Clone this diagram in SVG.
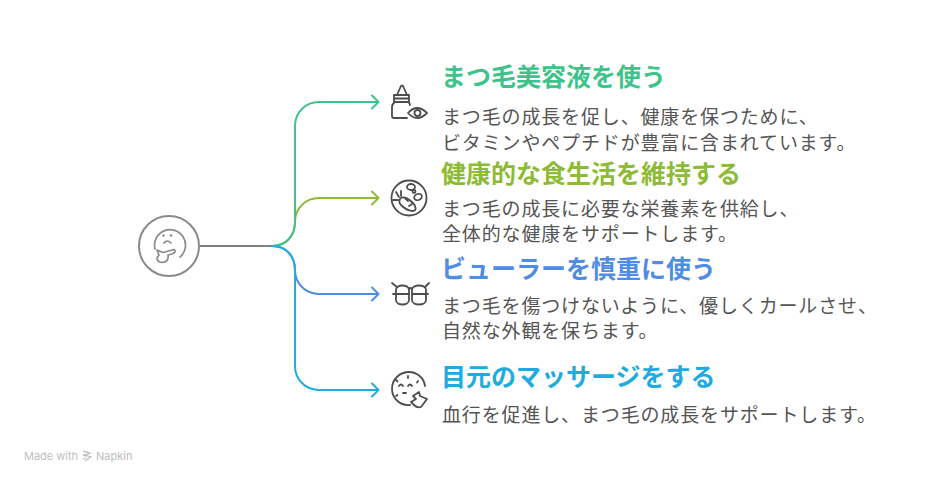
<svg xmlns="http://www.w3.org/2000/svg" width="932" height="484" viewBox="0 0 932 484">
<style>
text{font-family:"Noto Sans CJK JP","Noto Sans",sans-serif}
.t{font-size:25px;font-weight:700}
.b{font-size:19px;fill:#555;letter-spacing:.85px}
.i{fill:none;stroke:#4d4d4d;stroke-width:1.8;stroke-linecap:round;stroke-linejoin:round}
.c{fill:none;stroke-width:2;stroke-linecap:round;stroke-linejoin:round}
</style>
<rect width="932" height="484" fill="#fff"/>
<g id="connectors">
<path class="c" stroke="#808080" d="M200 246H272"/>
<path class="c" stroke="#8dbb35" d="M272 246C286 246 295 236 295 222C295 208 306 198 319 198H378.500M372 191.500L378.500 198L372 204.500"/>
<path class="c" stroke="#3dc48a" d="M272 246C286 246 295 236 295 222V126C295 112 306 102 319 102H378.500M372 95.500L378.500 102L372 108.500"/>
<path class="c" stroke="#4e8ce6" d="M272 246C286 246 295 256 295 270C295 284 306 294 319 294H378.500M372 287.500L378.500 294L372 300.500"/>
<path class="c" stroke="#20abe0" d="M272 246C286 246 295 256 295 270V366C295 380 306 390 319 390H378.500M372 383.500L378.500 390L372 396.500"/>
</g>
<g id="center">
<circle cx="169" cy="246" r="30" fill="#fff" stroke="#8a8a8a" stroke-width="2"/>
<g fill="none" stroke="#8a8a8a" stroke-width="1.7" stroke-linecap="round" stroke-linejoin="round">
<path d="M155 249A15.500 15.500 0 1 1 180 257"/>
<path d="M157 250L163 252.500L174 249.500Q177 252 172 254L168 255Q169 262 162 262.500Q157 262 157 258L159 255Z"/>
<path d="M164 243Q167 239 171 243"/>
</g>
<circle cx="163.500" cy="235.500" r="1.200" fill="#8a8a8a"/><circle cx="171" cy="235.500" r="1.200" fill="#8a8a8a"/>
</g>
<g id="node1">
<g class="i">
<path d="M397 95L400.500 87Q402 84 403.500 87L407 95Z"/>
<path d="M394 95H409V102H394ZM394 98.500H409"/>
<path d="M395 102Q392 104 392 107V116Q392 118 394 118H407M408 102Q410 103 410 105"/>
<path d="M408 113Q417 103 427 113Q417 123 408 113Z"/>
<circle cx="417.500" cy="113" r="3"/>
</g>
</g>
<text class="t" x="441" y="86" fill="#3dc48a">まつ毛美容液を使う</text>
<text class="b" x="442" y="124">まつ毛の成長を促し、健康を保つために、</text>
<text class="b" x="442" y="150">ビタミンやペプチドが豊富に含まれています。</text>
<g id="node2">
<circle class="i" cx="409" cy="198" r="17.500"/>
<g class="i">
<path d="M400 199C402 196 407 197 413 203C417 207 416 211 413 211C410 211 405 209 401 205C399 203 399 201 400 199Z"/>
<path d="M399 197L396 192M398 200L393 200M401 196L401 191"/>
<path d="M405 198L408 201M409 206L412 204"/>
<ellipse cx="411" cy="187" rx="4" ry="3"/>
<ellipse cx="418" cy="197" rx="4" ry="3" transform="rotate(-25 418 197)"/>
<ellipse cx="414" cy="191.500" rx="1.500" ry="1.500"/>
</g>
</g>
<text class="t" x="441" y="183" fill="#8dbb35">健康的な食生活を維持する</text>
<text class="b" x="442" y="216">まつ毛の成長に必要な栄養素を供給し、</text>
<text class="b" x="442" y="241">全体的な健康をサポートします。</text>
<g id="node3">
<g class="i">
<path d="M396 290C396 284 409 284 409 290V300C409 306 396 306 396 300Z"/>
<path d="M412 290C412 284 426 284 426 290V300C426 306 412 306 412 300Z"/>
<path d="M409 289Q410.500 287 412 289M396 294H409M412 294H426M396 294H393M426 294H428M397 287L392 283M425 287L429 283"/>
</g>
</g>
<text class="t" x="441" y="278" fill="#4e8ce6">ビューラーを慎重に使う</text>
<text class="b" x="442" y="313">まつ毛を傷つけないように、優しくカールさせ、</text>
<text class="b" x="442" y="338">自然な外観を保ちます。</text>
<g id="node4">
<g class="i">
<path d="M410 405C400 406 392 398 392 389C392 379 400 372 409 372C417 372 424 378 425 386"/>
<path d="M399 386Q401 383 403 386M408 386Q410 383 412 386M403 393H406"/>
<path d="M413 396L419 392L420 396L427 399L421 407C418 408 416 407 414 405L411 402L416 399Z"/>
<path d="M396 380L397.500 381.500M408 376V378M418 381L417 382.500M396 396L397.500 395"/>
</g>
</g>
<text class="t" x="441" y="386" fill="#20abe0">目元のマッサージをする</text>
<text class="b" x="442" y="422">血行を促進し、まつ毛の成長をサポートします。</text>
<g id="watermark">
<text x="24" y="460" font-size="11" style="font-family:'Inter','Noto Sans',sans-serif" fill="#bdbdbd">Made with</text>
<path d="M83 451L90 453L85 455L91 457L85 461M83 455L87 456M83 459L86 458" fill="none" stroke="#bdbdbd" stroke-width="1.300"/>
<text x="96" y="460" font-size="11" style="font-family:'Inter','Noto Sans',sans-serif" fill="#bdbdbd">Napkin</text>
</g>
</svg>
